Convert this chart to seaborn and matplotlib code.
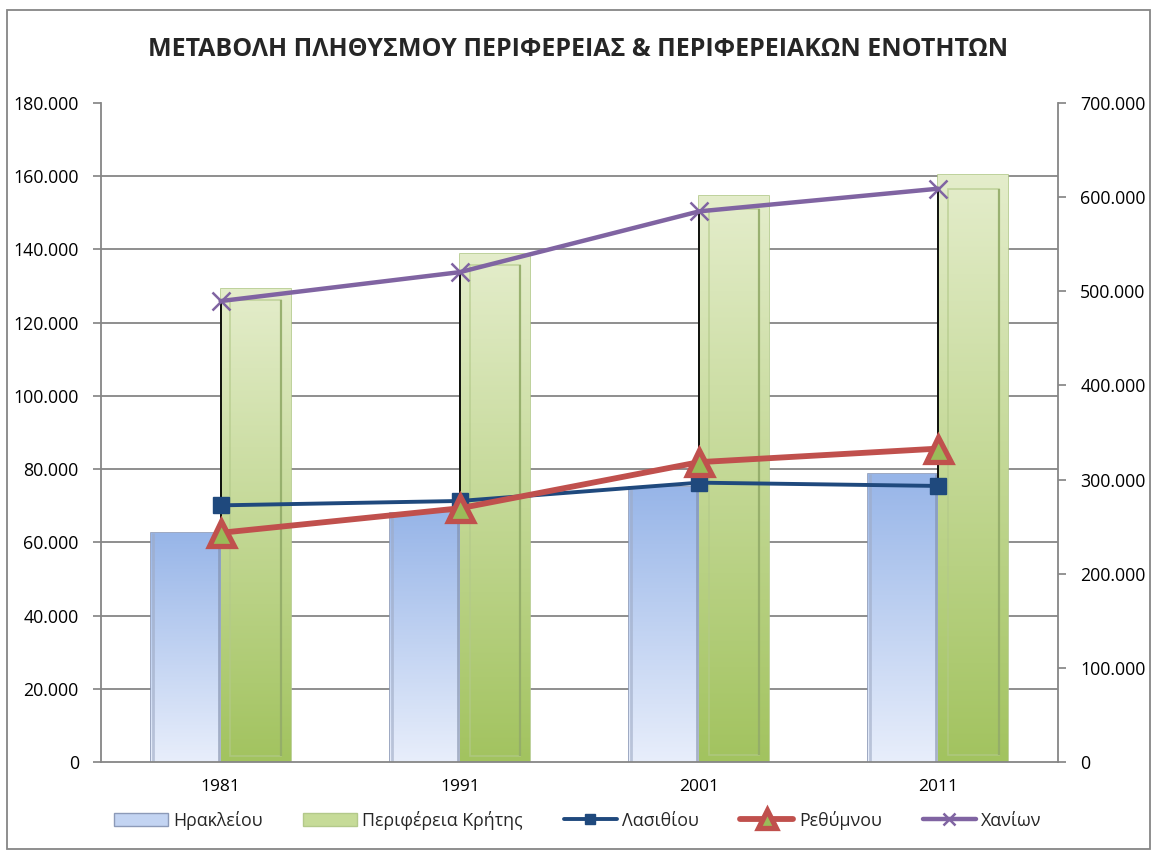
"""Population change chart: Crete region and regional units, 1981-2011."""

import numpy as np
import pandas as pd
import seaborn as sns
from matplotlib import pyplot as plt
from matplotlib import ticker as mticker
from matplotlib.colors import LinearSegmentedColormap
from matplotlib.lines import Line2D
from matplotlib.patches import Patch, Rectangle

YEARS = ["1981", "1991", "2001", "2011"]
# bars, right axis
HERAKLION = [243600, 264900, 292500, 305500]
CRETE = [502200, 540100, 601100, 623100]
# lines, left axis
LASITHI = [70100, 71300, 76300, 75400]
RETHYMNO = [62600, 69300, 81900, 85600]
CHANIA = [125900, 133800, 150400, 156600]

LEFT_TICKS = list(range(0, 180001, 20000))
RIGHT_TICKS = list(range(0, 700001, 100000))

TITLE = "ΜΕΤΑΒΟΛΗ ΠΛΗΘΥΣΜΟΥ ΠΕΡΙΦΕΡΕΙΑΣ & ΠΕΡΙΦΕΡΕΙΑΚΩΝ ΕΝΟΤΗΤΩΝ"

GRID = "#868686"
BAR_STYLE = {
    "Ηρακλείου": {"top": "#97b5e8", "bottom": "#e8eefb", "edge": "#8c9ab8", "inner": None},
    "Περιφέρεια Κρήτης": {"top": "#e4edcb", "bottom": "#a2c35f", "edge": "#b3c98a", "inner": "#8fa865"},
}
LINE_STYLE = {
    "Λασιθίου": dict(color="#1f497d", lw=2.8, marker="s", ms=11, mfc="#1f497d", mec="#1f497d", mew=1),
    "Ρεθύμνου": dict(color="#c0504d", lw=4.2, marker="^", ms=18, mfc="#9bbb59", mec="#c0504d", mew=3.8),
    "Χανίων": dict(color="#8064a2", lw=3.2, marker="x", ms=13, mfc="none", mec="#8064a2", mew=1.8),
}


def dotted_thousands(v, _pos=None):
    return f"{v:,.0f}".replace(",", ".")


def shade_bars(ax, container, style):
    """Excel-like vertical gradient inside each bar."""
    cmap = LinearSegmentedColormap.from_list("g", [style["bottom"], style["top"]])
    grad = np.linspace(0, 1, 256).reshape(-1, 1)
    for bar in container:
        x, y = bar.get_x(), bar.get_y()
        w, h = bar.get_width(), bar.get_height()
        img = ax.imshow(grad, cmap=cmap, extent=(x, x + w, y, y + h), origin="lower",
                        aspect="auto", zorder=bar.get_zorder() + 0.1, interpolation="bilinear")
        img.set_clip_path(bar)
        if style["inner"]:
            # bevel: faint inner frame with a darker right edge
            ax.add_patch(Rectangle((x + w * 0.14, y + h * 0.012), w * 0.72, h * 0.965, fill=False,
                                   edgecolor=style["edge"], lw=1.2, alpha=0.7,
                                   zorder=bar.get_zorder() + 0.2))
            ax.vlines(x + w * 0.86, y + h * 0.012, y + h * 0.977, color=style["inner"], lw=1.6,
                      alpha=0.8, zorder=bar.get_zorder() + 0.3)
        else:
            ax.vlines(x + w * 0.97, y, y + h, color="#7d8aa6", lw=2.0, alpha=0.6,
                      zorder=bar.get_zorder() + 0.3)
            ax.vlines(x + w * 0.03, y, y + h, color="#9eaac4", lw=2.0, alpha=0.6,
                      zorder=bar.get_zorder() + 0.3)


sns.set_theme(style="white")
plt.rcParams["font.family"] = ["Open Sans", "DejaVu Sans"]

fig = plt.figure(figsize=(11.56, 8.51), dpi=100)
ax_bar = fig.add_axes([101 / 1156, 1 - 762 / 851, (1058 - 101) / 1156, (762 - 103) / 851])
ax_line = ax_bar.twinx()

pos = np.arange(len(YEARS))

# bars on the right-hand scale
bars = pd.DataFrame({
    "year": YEARS * 2,
    "value": HERAKLION + CRETE,
    "series": ["Ηρακλείου"] * 4 + ["Περιφέρεια Κρήτης"] * 4,
})
sns.barplot(data=bars, x="year", y="value", hue="series", ax=ax_bar, width=0.585,
            palette={k: v["bottom"] for k, v in BAR_STYLE.items()}, legend=False,
            edgecolor="none", saturation=1)
for container, name in zip(ax_bar.containers, BAR_STYLE):
    for bar in container:
        bar.set_edgecolor(BAR_STYLE[name]["edge"])
        bar.set_linewidth(1.2)
    shade_bars(ax_bar, container, BAR_STYLE[name])

ax_bar.set_xlim(-0.5, len(YEARS) - 0.5)
ax_bar.set_ylim(0, RIGHT_TICKS[-1])
ax_bar.yaxis.tick_right()
ax_bar.set_yticks(RIGHT_TICKS)
ax_bar.yaxis.set_major_formatter(mticker.FuncFormatter(dotted_thousands))
# horizontal grid follows the left scale
scale = RIGHT_TICKS[-1] / LEFT_TICKS[-1]
ax_bar.set_yticks([t * scale for t in LEFT_TICKS], minor=True)
ax_bar.grid(False)
ax_bar.grid(True, which="minor", axis="y", color=GRID, lw=1.3)
ax_bar.set_axisbelow(True)
ax_bar.tick_params(axis="y", which="minor", length=0)
ax_bar.tick_params(axis="y", which="major", direction="out", length=6, color=GRID,
                   labelsize=12.8, labelcolor="black", pad=10)

# x axis: boundaries as ticks, labels at centres
ax_bar.set_xticks(np.arange(-0.5, len(YEARS)), labels=[""] * (len(YEARS) + 1))
ax_bar.set_xticks(pos, labels=YEARS, minor=True)
ax_bar.tick_params(axis="x", which="major", direction="out", length=6, color=GRID)
ax_bar.tick_params(axis="x", which="minor", length=0, labelsize=12.5, labelcolor="black", pad=12)
ax_bar.set_xlabel("")
ax_bar.set_ylabel("")
for side in ["left", "right", "bottom"]:
    ax_bar.spines[side].set_visible(True)
    ax_bar.spines[side].set_color(GRID)
    ax_bar.spines[side].set_linewidth(1.3)
ax_bar.spines["top"].set_visible(False)

# lines on the left-hand scale
series = {"Λασιθίου": LASITHI, "Ρεθύμνου": RETHYMNO, "Χανίων": CHANIA}
stacked = np.array(list(series.values()))
ax_line.vlines(pos, stacked.min(axis=0), stacked.max(axis=0), color="black", lw=1.3, zorder=1.5)
for name, vals in series.items():
    sns.lineplot(x=pos, y=vals, ax=ax_line, zorder=2, **LINE_STYLE[name])

ax_line.set_ylim(0, LEFT_TICKS[-1])
ax_line.yaxis.tick_left()
ax_line.set_yticks(LEFT_TICKS)
ax_line.yaxis.set_major_formatter(mticker.FuncFormatter(dotted_thousands))
ax_line.tick_params(axis="y", direction="out", length=6, color=GRID, labelsize=12.8,
                    labelcolor="black", pad=10)
ax_line.grid(False)
ax_line.set_ylabel("")
for spine in ax_line.spines.values():
    spine.set_visible(False)

fig.text(0.5, 1 - 50 / 851, TITLE, ha="center", va="center", fontsize=18, fontweight="bold")

handles = [
    Patch(facecolor="#c3d4f2", edgecolor=BAR_STYLE["Ηρακλείου"]["edge"]),
    Patch(facecolor="#c6db98", edgecolor=BAR_STYLE["Περιφέρεια Κρήτης"]["edge"]),
]
labels = list(BAR_STYLE)
for name in series:
    st = dict(LINE_STYLE[name])
    st["ms"] = st["ms"] * 0.7
    handles.append(Line2D([], [], **st))
    labels.append(name)
fig.legend(handles, labels, loc="center", bbox_to_anchor=(0.5, 1 - 820 / 851), ncol=5,
           frameon=False, fontsize=12.8, handlelength=3.0, handleheight=0.8,
           handletextpad=0.3, columnspacing=2.3)

fig.add_artist(Rectangle((7 / 1156, 2 / 851), (1150 - 7) / 1156, (849 - 10) / 851,
                         transform=fig.transFigure, fill=False, edgecolor=GRID, lw=1.3))

fig.savefig("out.png", dpi=100)
plt.close(fig)
